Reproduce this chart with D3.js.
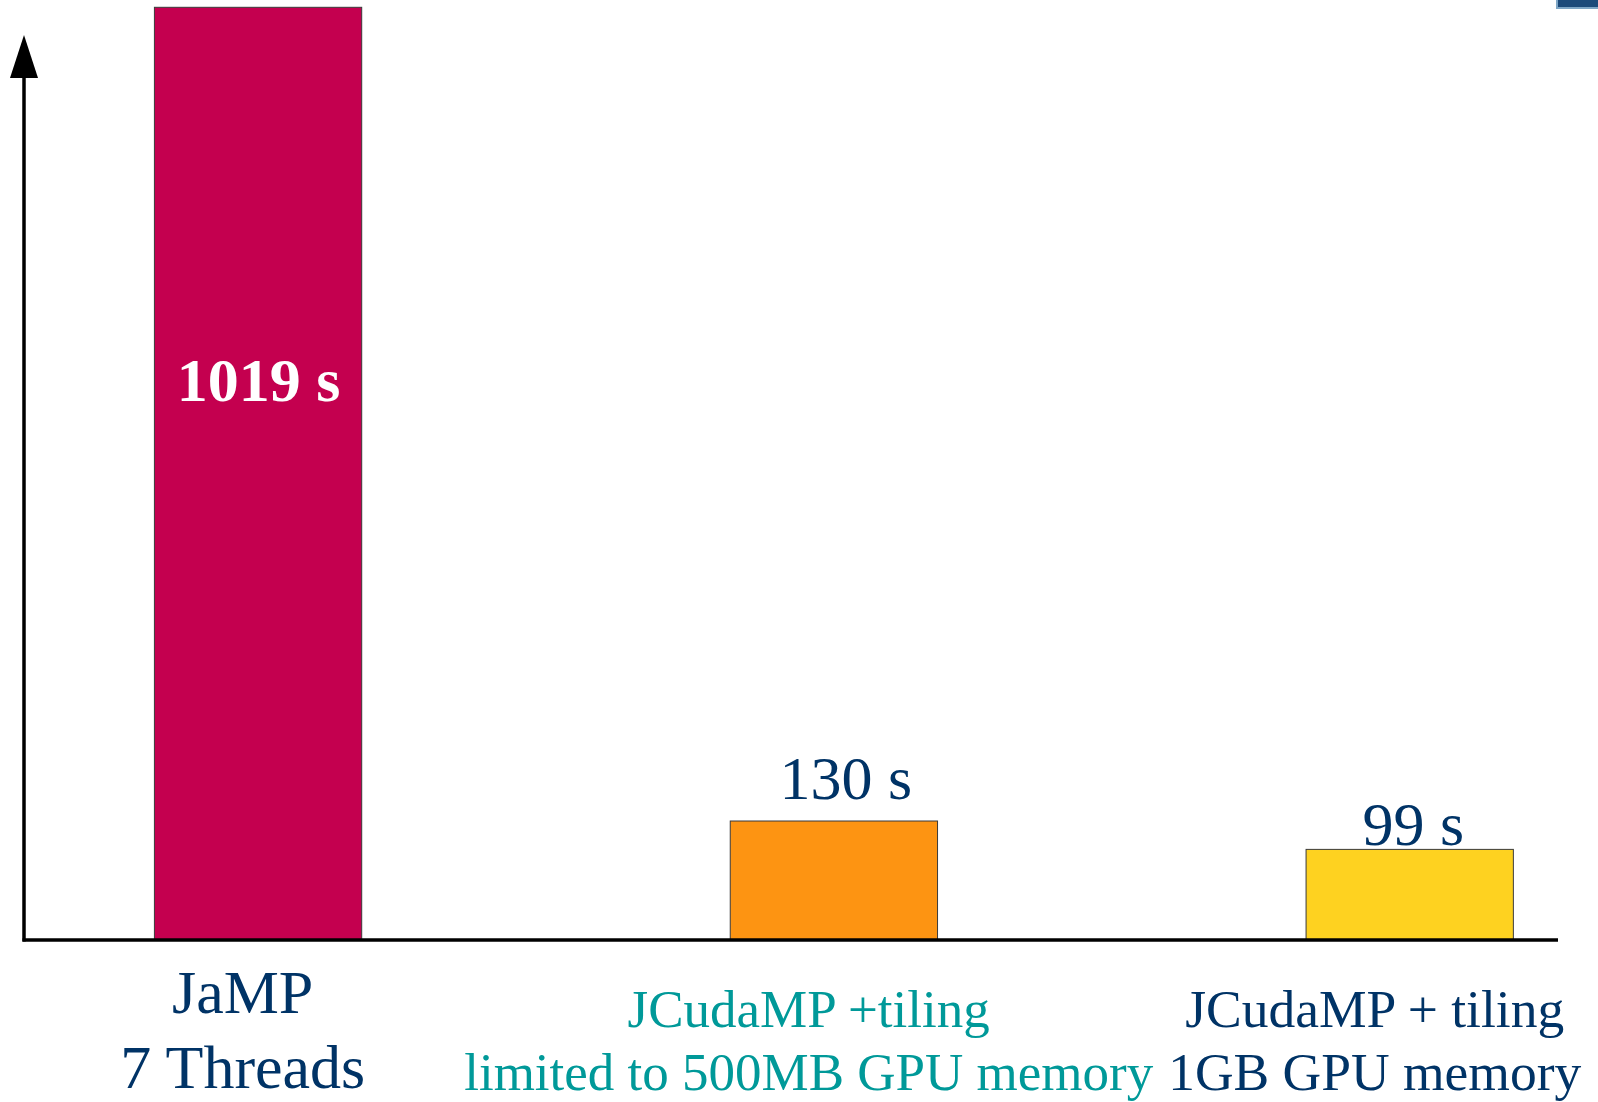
<!DOCTYPE html>
<html>
<head>
<meta charset="utf-8">
<script src="https://cdn.jsdelivr.net/npm/d3@7"></script>
<style>
  html, body { margin: 0; padding: 0; background: #ffffff; }
  svg { display: block; }
  text { font-family: "Liberation Serif", "Times New Roman", serif; }
</style>
</head>
<body>
<svg id="chart" width="1598" height="1102"></svg>
<script>
// Run times of the three configurations, in seconds
const categories = ["JaMP", "JCudaMP 500MB", "JCudaMP 1GB"];
const seconds = [1019, 130, 99];
const valueLabels = ["1019 s", "130 s", "99 s"];
const categoryLines = [
  ["JaMP", "7 Threads"],
  ["JCudaMP +tiling", "limited to 500MB GPU memory"],
  ["JCudaMP + tiling", "1GB GPU memory"]
];

const W = 1598, H = 1102;
const axisX = 24, baseY = 940, axisRight = 1558, barTop = 7.3;

const barFill = ["#c4004f", "#fd9412", "#fed220"];
const navy = "#003366";
const teal = "#009999";
const labelColor = [navy, teal, navy];

const svg = d3.select("#chart");

const x = d3.scaleBand()
  .domain(categories)
  .range([axisX, axisRight])
  .paddingInner(0.64)
  .paddingOuter(0.152)
  .align(0.745);

const y = d3.scaleLinear()
  .domain([0, d3.max(seconds)])
  .range([baseY, barTop]);

// category captions sit on their own evenly spaced positions
const xCaption = d3.scalePoint()
  .domain(categories)
  .range([242.7, 1374.7]);

// small decorative corner block
svg.append("rect")
  .attr("x", 1557).attr("y", -2)
  .attr("width", 50).attr("height", 10)
  .attr("fill", "#1c4a7a")
  .attr("stroke", "#7ea6c6")
  .attr("stroke-width", 2);

// bars
svg.selectAll("rect.bar")
  .data(categories)
  .join("rect")
  .attr("class", "bar")
  .attr("x", d => x(d))
  .attr("y", (d, i) => y(seconds[i]))
  .attr("width", x.bandwidth())
  .attr("height", (d, i) => baseY - y(seconds[i]))
  .attr("fill", (d, i) => barFill[i])
  .attr("stroke", "#3a3a3a")
  .attr("stroke-width", 1);

// y axis with arrowhead
svg.append("line")
  .attr("x1", axisX).attr("x2", axisX)
  .attr("y1", baseY + 1.5).attr("y2", 76)
  .attr("stroke", "#000").attr("stroke-width", 3.5);
svg.append("path")
  .attr("d", d3.line()([[axisX, 35], [axisX + 14, 78], [axisX - 14, 78]]) + "Z")
  .attr("fill", "#000");

// x axis baseline
svg.append("line")
  .attr("x1", axisX - 1.5).attr("x2", axisRight)
  .attr("y1", baseY).attr("y2", baseY)
  .attr("stroke", "#000").attr("stroke-width", 3.5);

// value labels: inside the tall bar, above the short ones
const labelDx = [0.5, 12, 3.5];
const labelDy = [0, -22, -4];
svg.selectAll("text.value")
  .data(categories)
  .join("text")
  .attr("class", "value")
  .attr("x", (d, i) => x(d) + x.bandwidth() / 2 + labelDx[i])
  .attr("y", (d, i) => i === 0 ? y(seconds[i] * 0.578) : y(seconds[i]) + labelDy[i])
  .attr("text-anchor", "middle")
  .attr("font-size", 62)
  .attr("font-weight", (d, i) => i === 0 ? "bold" : "normal")
  .attr("fill", (d, i) => i === 0 ? "#ffffff" : navy)
  .text((d, i) => valueLabels[i]);

// category captions
const capSize = [62, 53, 53.5];
const capLine1 = [1013, 1027, 1027];
const capLine2 = [1088, 1090, 1090];
categories.forEach((c, i) => {
  const t = svg.append("text")
    .attr("text-anchor", "middle")
    .attr("font-size", capSize[i])
    .attr("fill", labelColor[i]);
  categoryLines[i].forEach((line, j) => {
    t.append("tspan")
      .attr("x", xCaption(c))
      .attr("y", j === 0 ? capLine1[i] : capLine2[i])
      .text(line);
  });
});
</script>
</body>
</html>
